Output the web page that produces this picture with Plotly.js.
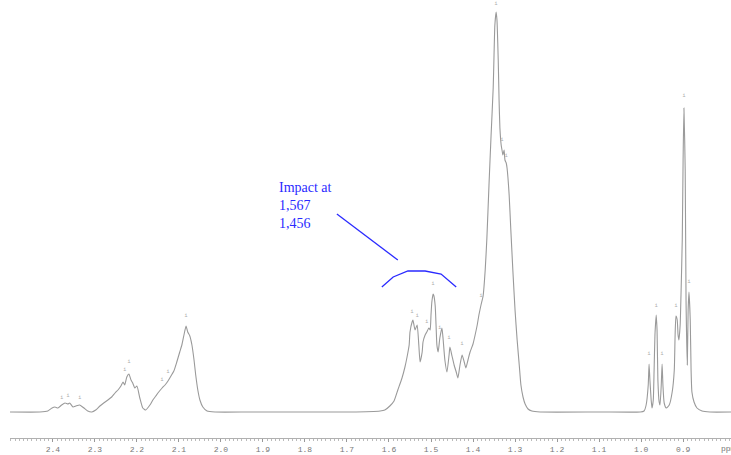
<!DOCTYPE html>
<html>
<head>
<meta charset="utf-8">
<script src="https://cdn.plot.ly/plotly-3.0.1.min.js"></script>
<style>html,body{margin:0;padding:0;background:#fff;}#chart{width:731px;height:455px;}</style>
</head>
<body>
<div id="chart"></div>
<script>
// Chemical shift (ppm) and relative intensity
const ppm = [2.502,2.431,2.412,2.402,2.395,2.388,2.379,2.371,2.364,2.360,2.352,2.345,2.336,2.326,2.317,2.307,2.298,2.288,2.279,2.269,2.260,2.252,2.245,2.238,2.233,2.229,2.224,2.219,2.214,2.210,2.205,2.200,2.193,2.186,2.179,2.169,2.162,2.155,2.148,2.140,2.133,2.126,2.119,2.112,2.105,2.098,2.093,2.088,2.083,2.079,2.074,2.069,2.064,2.060,2.055,2.050,2.043,2.033,2.014,1.931,1.812,1.693,1.621,1.610,1.598,1.588,1.579,1.569,1.562,1.557,1.552,1.550,1.545,1.543,1.538,1.533,1.529,1.526,1.521,1.519,1.514,1.510,1.505,1.502,1.500,1.498,1.495,1.493,1.490,1.488,1.486,1.483,1.479,1.474,1.471,1.467,1.462,1.457,1.455,1.450,1.445,1.440,1.436,1.431,1.426,1.421,1.417,1.412,1.407,1.400,1.395,1.390,1.386,1.381,1.376,1.371,1.367,1.362,1.357,1.352,1.350,1.348,1.345,1.343,1.340,1.338,1.336,1.333,1.331,1.329,1.326,1.324,1.321,1.319,1.314,1.310,1.305,1.300,1.295,1.290,1.286,1.281,1.276,1.269,1.260,1.240,1.098,1.002,0.993,0.988,0.983,0.981,0.979,0.976,0.974,0.971,0.969,0.967,0.964,0.962,0.960,0.957,0.955,0.952,0.950,0.948,0.945,0.940,0.933,0.926,0.921,0.919,0.917,0.914,0.912,0.910,0.907,0.905,0.902,0.900,0.898,0.895,0.893,0.890,0.888,0.886,0.883,0.881,0.879,0.874,0.867,0.855,0.836,0.786];
const intensity = [0,0,0.25,1.0,1.25,1.0,1.75,2.25,2.0,2.25,1.25,1.5,1.75,1.0,0.25,0,0.5,1.5,2.25,3.0,3.75,4.75,5.5,6.5,7.5,6.75,8.75,9.5,8.0,7.25,6.0,6.5,3.5,1.0,0.5,1.75,3.0,4.0,5.0,6.0,6.75,7.75,9.0,10.25,12.5,15.0,16.75,19.25,21.5,20.0,19.0,16.75,13.0,9.25,5.5,3.0,1.25,0.25,0,0,0,0,0.25,0.5,1.5,2.75,5.5,8.5,11.25,13.75,16.75,20.0,22.5,23.0,20.5,21.75,16.75,12.5,15.0,17.5,19.25,20.0,21.0,20.5,24.25,27.5,29.5,29.0,26.5,21.75,16.75,15.0,18.5,21.0,18.0,13.0,10.0,14.25,16.25,14.0,11.75,10.0,8.5,11.75,14.25,12.5,11.0,13.0,15.0,17.0,19.25,21.75,24.25,26.75,29.0,35.5,43.5,56.75,69.25,81.0,89.25,96.75,100,98.0,88.0,78.0,71.0,66.75,65.5,64.25,65.5,63.0,62.25,61.0,54.25,45.5,35.0,25.5,18.0,11.75,6.75,3.75,2.0,0.75,0.25,0,0,0,0.25,1.75,6.75,12.0,8.0,3.0,1.0,3.0,10.5,19.25,24.25,20.5,8.0,2.5,1.75,6.75,12.0,6.75,2.25,1.0,1.75,5.0,10.5,19.25,24.0,23.0,19.25,18.0,21.75,29.25,43.0,63.0,76.0,60.5,28.0,11.75,25.5,30.0,23.0,10.5,5.0,2.5,1.0,0.25,0,0];

// Peak-pick markers printed above peaks
const pickPpm = [2.379,2.364,2.336,2.229,2.219,2.140,2.126,2.083,1.545,1.533,1.510,1.495,1.479,1.457,1.426,1.381,1.345,1.331,1.321,0.981,0.964,0.950,0.917,0.898,0.886];
const pickInt = [3.5,4.0,3.5,10.5,12.5,8,10,24,25,24,22.5,32,21,18.5,17,29,102,68,64,14.5,26.5,14.5,26.5,79,32.5];

// Axis ticks
const tickValues = [2.4,2.3,2.2,2.1,2.0,1.9,1.8,1.7,1.6,1.5,1.4,1.3,1.2,1.1,1.0,0.9];
const tickLabels = ["2.4","2.3","2.2","2.1","2.0","1.9","1.8","1.7","1.6","1.5","1.4","1.3","1.2","1.1","1.0","0.9"];

// Hand-drawn annotation (ppm, intensity)
const arcPpm = [1.617,1.590,1.555,1.514,1.476,1.440];
const arcInt = [31.25,33.75,35.25,35.25,34.5,31.25];
const leaderPpm = [1.724,1.579];
const leaderInt = [49.5,38.0];
const noteText = "Impact at<br>1,567<br>1,456";

const blue = '#2a2aff';
const traces = [
  {x: ppm, y: intensity, type: 'scatter', mode: 'lines',
   line: {color: '#9a9a9a', width: 1.1, shape: 'spline', smoothing: 0.5}, hoverinfo: 'skip'},
  {x: pickPpm, y: pickInt, type: 'scatter', mode: 'text', text: pickPpm.map(() => 'i'),
   textfont: {family: 'Liberation Mono', size: 5, color: '#aaaaaa'}, hoverinfo: 'skip'},
  {x: arcPpm, y: arcInt, type: 'scatter', mode: 'lines', line: {color: blue, width: 1.3}, hoverinfo: 'skip'},
  {x: leaderPpm, y: leaderInt, type: 'scatter', mode: 'lines', line: {color: blue, width: 1.3}, hoverinfo: 'skip'}
];

const layout = {
  width: 731, height: 455,
  margin: {l: 10, r: 0, t: 0, b: 17},
  paper_bgcolor: '#fff', plot_bgcolor: '#fff',
  showlegend: false,
  xaxis: {
    range: [2.502, 0.786], showgrid: false, zeroline: false,
    showline: true, linecolor: '#b0b0b0', linewidth: 1,
    tickmode: 'array', tickvals: tickValues, ticktext: tickLabels,
    ticks: 'outside', ticklen: 3, tickcolor: '#999', tickwidth: 1,
    minor: {dtick: 0.01, ticks: 'outside', ticklen: 2, tickcolor: '#bbb', showgrid: false},
    tickfont: {family: 'Liberation Mono', size: 8, color: '#777'},
    fixedrange: true
  },
  yaxis: {range: [-6.5, 103], visible: false, fixedrange: true},
  annotations: [
    {xref: 'x', yref: 'y', x: 1.867, y: 58.5, xanchor: 'left', yanchor: 'top', align: 'left',
     showarrow: false, text: noteText,
     font: {family: 'Liberation Serif', size: 14, color: blue}},
    {xref: 'paper', yref: 'paper', x: 0.983, y: -0.023, xanchor: 'left', yanchor: 'middle',
     showarrow: false, text: 'ppm', font: {family: 'Liberation Mono', size: 8, color: '#777'}}
  ]
};

Plotly.newPlot('chart', traces, layout, {displayModeBar: false, staticPlot: true});
</script>
</body>
</html>
